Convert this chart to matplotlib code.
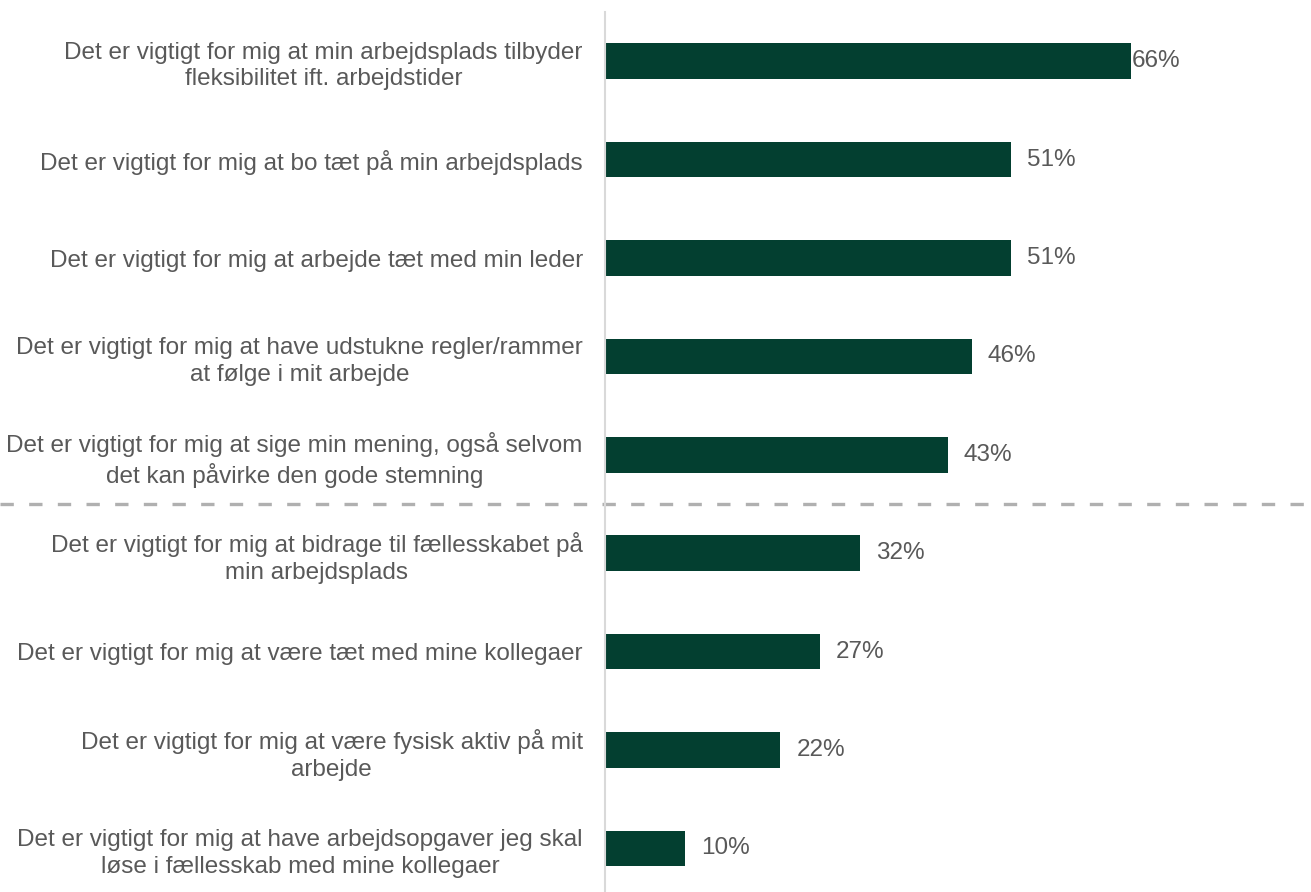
import matplotlib
matplotlib.use("Agg")
import matplotlib.pyplot as plt
import matplotlib.transforms as mtransforms

# survey statements, top to bottom
statements = [
    "Det er vigtigt for mig at min arbejdsplads tilbyder\nfleksibilitet ift. arbejdstider",
    "Det er vigtigt for mig at bo tæt på min arbejdsplads",
    "Det er vigtigt for mig at arbejde tæt med min leder",
    "Det er vigtigt for mig at have udstukne regler/rammer\nat følge i mit arbejde",
    "Det er vigtigt for mig at sige min mening, også selvom\ndet kan påvirke den gode stemning",
    "Det er vigtigt for mig at bidrage til fællesskabet på\nmin arbejdsplads",
    "Det er vigtigt for mig at være tæt med mine kollegaer",
    "Det er vigtigt for mig at være fysisk aktiv på mit\narbejde",
    "Det er vigtigt for mig at have arbejdsopgaver jeg skal\nløse i fællesskab med mine kollegaer",
]
shares = [66, 51, 51, 46, 43, 32, 27, 22, 10]
split_after = 5  # dashed separator goes below the first five statements

BAR = "#033f30"
TEXT = "#595959"
FS = 17.5
plt.rcParams["font.family"] = ["Liberation Sans", "DejaVu Sans"]

W, H = 1311, 892
fig = plt.figure(figsize=(W / 100, H / 100), dpi=100)
n = len(shares)
ax = fig.add_axes([605 / W, (H - 12 - 885.6) / H, 706 / W, 885.6 / H])

ypos = list(range(n))
ax.barh(ypos, shares, height=0.36, color=BAR)
ax.set_ylim(n - 0.5, -0.5)
ax.set_xlim(0, 88.6)

ax.set_yticks(ypos)
ax.set_yticklabels(statements, fontsize=FS, color=TEXT, multialignment="center",
                   linespacing=1.28)
ax.tick_params(axis="y", length=0, pad=16)
ax.set_xticks([])
for side in ("top", "right", "bottom"):
    ax.spines[side].set_visible(False)
ax.spines["left"].set_color("#d9d9d9")
ax.spines["left"].set_linewidth(1.5)

top = max(shares)
for y, v in zip(ypos, shares):
    off = 1 if v == top else 16
    ax.annotate(f"{v}%", (v, y), xytext=(off * 0.72, 0), textcoords="offset points",
                va="center", ha="left", fontsize=FS, color=TEXT)

# dashed separator across the whole figure
trans = mtransforms.blended_transform_factory(fig.transFigure, ax.transData)
ax.plot([0, 1], [split_after - 0.5] * 2, transform=trans, clip_on=False,
        color="#b0b0b0", lw=2.4, ls=(0, (4, 4.6)))

fig.savefig("out.png", dpi=100)
